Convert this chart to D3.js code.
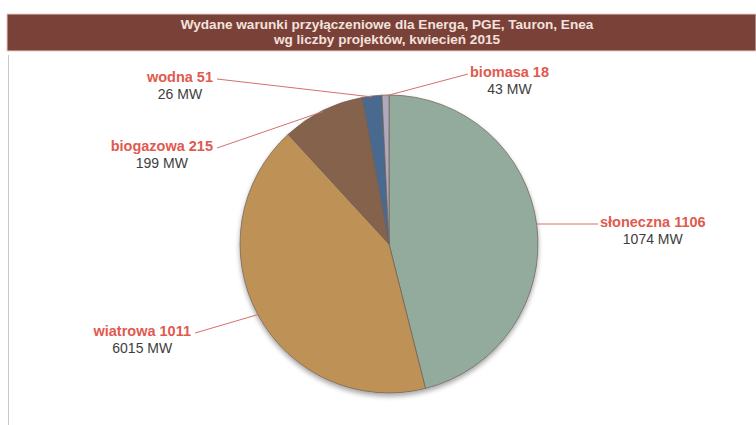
<!DOCTYPE html>
<html>
<head>
<meta charset="utf-8">
<script src="https://cdn.jsdelivr.net/npm/d3@7"></script>
<style>
  html, body { margin: 0; padding: 0; background: #fff; }
  svg { display: block; }
</style>
</head>
<body>
<svg id="chart" width="756" height="425"></svg>
<script>
// ---- data ----
const categories = ["słoneczna", "wiatrowa", "biogazowa", "wodna", "biomasa"];
const projectCounts = [1106, 1011, 215, 51, 18];
const capacityMW = [1074, 6015, 199, 26, 43];
const titleLines = ["Wydane warunki przyłączeniowe dla Energa, PGE, Tauron, Enea",
                    "wg liczby projektów, kwiecień 2015"];

// ---- styles / layout ----
const sliceColors = ["#87a092", "#b5854a", "#7a5843", "#3e5c80", "#a29db2"];
const sliceLight  = ["#92ab9d", "#be9257", "#84624c", "#4a6a8e", "#aea9bd"];
const sliceDark   = ["#7a9487", "#ab7b3e", "#6e503c", "#365274", "#948fa6"];
const cx = 389, cy = 244, R = 149;
// label anchors (end of leader line), relative to the pie centre
const labelLayout = [
  {dx: 209, dy: -20, side: "right"},
  {dx: -194, dy: 89, side: "left"},
  {dx: -172, dy: -96, side: "left"},
  {dx: -172, dy: -165, side: "left"},
  {dx: 79, dy: -170, side: "right"}
];

const svg = d3.select("#chart");
const defs = svg.append("defs");

// title bar
svg.append("rect").attr("x", 7).attr("y", 14).attr("width", 749).attr("height", 37)
  .attr("fill", "#7a4139").attr("stroke", "#e8cfc8").attr("stroke-width", 1);
svg.append("g").selectAll("text").data(titleLines).join("text")
  .attr("x", 387).attr("y", (d, i) => 28.5 + i * 15.5)
  .attr("text-anchor", "middle")
  .attr("font-family", "Liberation Sans, Arial, sans-serif")
  .attr("font-weight", "bold").attr("font-size", 13.6)
  .attr("fill", "#f3e2dd")
  .text(d => d);

// left frame line
svg.append("line").attr("x1", 8.5).attr("x2", 8.5).attr("y1", 55).attr("y2", 425)
  .attr("stroke", "#c8c8c8").attr("stroke-width", 1);

// gradients
sliceColors.forEach((c, i) => {
  const g = defs.append("linearGradient").attr("id", "grad" + i)
    .attr("gradientUnits", "userSpaceOnUse")
    .attr("x1", cx - R).attr("y1", cy - R).attr("x2", cx + R).attr("y2", cy + R);
  g.append("stop").attr("offset", "0%").attr("stop-color", sliceLight[i]);
  g.append("stop").attr("offset", "55%").attr("stop-color", c);
  g.append("stop").attr("offset", "100%").attr("stop-color", sliceDark[i]);
});
const shadow = defs.append("filter").attr("id", "shadow")
  .attr("x", "-10%").attr("y", "-10%").attr("width", "120%").attr("height", "125%");
shadow.append("feGaussianBlur").attr("in", "SourceAlpha").attr("stdDeviation", 2.5);
shadow.append("feOffset").attr("dx", 0).attr("dy", 3).attr("result", "b");
shadow.append("feComponentTransfer").append("feFuncA").attr("type", "linear").attr("slope", 0.35);
const merge = shadow.append("feMerge");
merge.append("feMergeNode");
merge.append("feMergeNode").attr("in", "SourceGraphic");

const data = categories.map((c, i) => ({name: c, count: projectCounts[i], mw: capacityMW[i], i}));
const pie = d3.pie().value(d => d.count).sort(null).startAngle(0).endAngle(2 * Math.PI);
const arcs = pie(data);
const arc = d3.arc().innerRadius(0).outerRadius(R);

const g = svg.append("g").attr("transform", `translate(${cx},${cy})`);
const slices = g.append("g").attr("filter", "url(#shadow)");
slices.selectAll("path").data(arcs).join("path")
  .attr("d", arc)
  .attr("fill", d => `url(#grad${d.data.i})`)
  .attr("stroke", "#6e5f55").attr("stroke-width", 0.9).attr("stroke-opacity", 0.8);

// leader lines
const leaders = g.append("g");
arcs.forEach((d, k) => {
  const mid = (d.startAngle + d.endAngle) / 2;
  const sx = Math.sin(mid) * (R - 1), sy = -Math.cos(mid) * (R - 1);
  const L = labelLayout[k];
  const pts = k === 0
    ? [[R - 1, L.dy], [L.dx, L.dy]]
    : [[sx, sy], [L.dx, L.dy]];
  leaders.append("path")
    .attr("d", d3.line()(pts))
    .attr("fill", "none").attr("stroke", "#d4706a").attr("stroke-width", 1);
});

// labels
const labels = g.append("g").attr("font-family", "Liberation Sans, Arial, sans-serif");
arcs.forEach((d, k) => {
  const L = labelLayout[k];
  const t = labels.append("text")
    .attr("font-weight", "bold").attr("font-size", 14.5).attr("fill", "#e05a50")
    .attr("y", L.dy + 3)
    .text(`${d.data.name} ${d.data.count}`);
  const w = t.node().getComputedTextLength();
  const x0 = L.side === "right" ? L.dx + 2 : L.dx - 4 - w;
  t.attr("x", x0);
  labels.append("text")
    .attr("font-size", 14).attr("fill", "#3e3e3e")
    .attr("text-anchor", "middle")
    .attr("x", x0 + w / 2).attr("y", L.dy + 20)
    .text(`${d.data.mw} MW`);
});
</script>
</body>
</html>
